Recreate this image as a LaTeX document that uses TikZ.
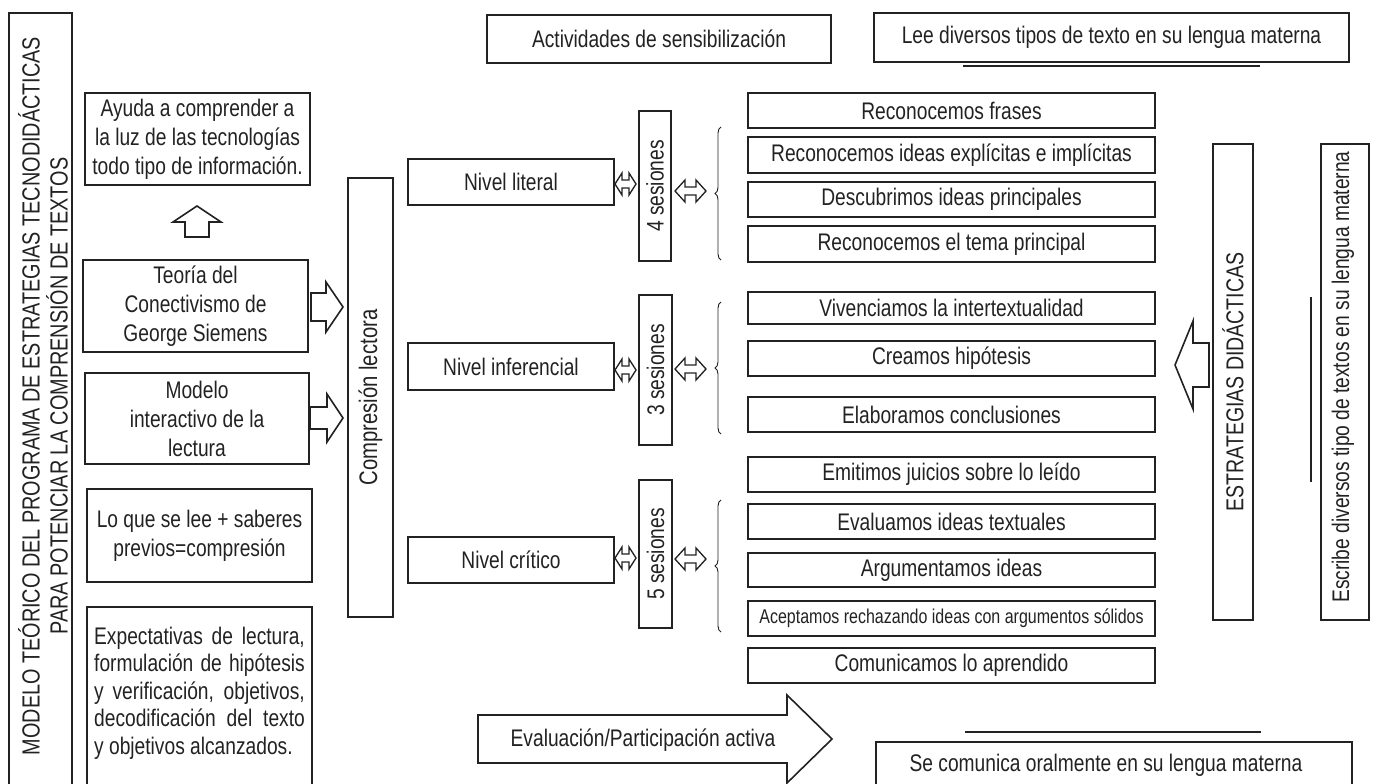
\documentclass[tikz,border=0pt]{standalone}
\usepackage{fontspec}
\setmainfont{Liberation Sans}[FakeStretch=0.8]
\usetikzlibrary{fit,decorations.pathreplacing}
\definecolor{ink}{HTML}{222222}
\tikzset{
 box/.style={draw=ink, line width=1.5pt, inner sep=0pt},
 txt/.style={text=ink, inner sep=0pt, align=center, font=\fontsize{18}{21.75}\selectfont},
 blockarrow/.style={draw=ink, line width=1.2pt, line join=miter, fill=white},
 bracel/.style={draw=ink, line width=0.7pt, decorate, decoration={brace, amplitude=4.5pt}},
 rulel/.style={draw=ink, line width=1.6pt},
}
\newcommand\bx[6]{%
 \node[box, fit={(#2,#3) (#4,#5)}] (#1) {};
 \node[txt] (#1-t) at (#1.center) {#6};}
\begin{document}
\begin{tikzpicture}[x=0.75pt, y=-0.75pt]
\useasboundingbox (0,0) rectangle (1376,783);
\clip (0,0) rectangle (1376,783);

% title
\node[box, fit={(9,13) (72,800)}] (title) {};
\node[txt, rotate=90, font=\fontsize{18.6}{21}\selectfont] (titletxt) at (43,396)
 {MODELO TEÓRICO DEL PROGRAMA DE ESTRATEGIAS TECNODIDÁCTICAS\\PARA POTENCIAR LA COMPRENSIÓN DE TEXTOS};

% left column
\bx{ayuda}{85}{93}{310}{185}{Ayuda a comprender a\\la luz de las tecnologías\\todo tipo de información.}
\bx{teoria}{83}{260}{308}{352}{Teoría del\\Conectivismo de\\George Siemens}
\bx{modelo}{85}{373}{309}{464}{Modelo\\interactivo de la\\lectura}
\bx{loque}{87}{489}{312}{582}{Lo que se lee + saberes\\previos=compresión}
\node[box, fit={(87,607) (312,800)}] (expect) {};
\node[txt, text width=158pt, align=justify, font=\fontsize{18}{20.6}\selectfont] (expecttxt) at (199.5,693)
 {Expectativas de lectura,\linebreak formulación de hipótesis\linebreak y verificación, objetivos,\linebreak decodificación del texto\linebreak y objetivos alcanzados.};

\draw[blockarrow] (185,237) -- (185,222) -- (173,222) -- (197,206) -- (221,222) -- (209,222) -- (209,237) -- cycle;
\draw[blockarrow] (311,293) -- (326,293) -- (326,282) -- (343,307) -- (326,332) -- (326,321) -- (311,321) -- cycle;
\draw[blockarrow] (310,407) -- (327,407) -- (327,394) -- (343,418) -- (327,442) -- (327,429) -- (310,429) -- cycle;

% comprension
\node[box, fit={(348,178) (393,617)}] (compr) {};
\node[txt, rotate=90, font=\fontsize{19}{21}\selectfont] (comprtxt) at (compr.center) {Compresión lectora};

% niveles
\bx{literal}{408}{159}{614}{205}{Nivel literal}
\bx{infer}{408}{343}{614}{390}{Nivel inferencial}
\bx{critico}{408}{537}{614}{583}{Nivel crítico}

% sesiones
\node[box, fit={(639,111) (671,261)}] (s4) {};
\node[txt, rotate=90] (s4txt) at (s4.center) {4 sesiones};
\node[box, fit={(639,295) (672,445)}] (s3) {};
\node[txt, rotate=90] (s3txt) at (s3.center) {3 sesiones};
\node[box, fit={(639,480) (672,628)}] (s5) {};
\node[txt, rotate=90] (s5txt) at (s5.center) {5 sesiones};

% small double arrows
\foreach \c in {184,370,558}{
 \draw[blockarrow, line width=1pt] (615,\c) -- (622,\c-11) -- (622,\c-4) -- (629,\c-4) -- (629,\c-11) -- (636,\c) -- (629,\c+11) -- (629,\c+4) -- (622,\c+4) -- (622,\c+11) -- cycle;
}
\foreach \c in {191,369,559}{
 \draw[blockarrow, line width=1pt] (675,\c) -- (685,\c-11) -- (685,\c-4) -- (696,\c-4) -- (696,\c-11) -- (706,\c) -- (696,\c+11) -- (696,\c+4) -- (685,\c+4) -- (685,\c+11) -- cycle;
}

% braces
\draw[bracel] (721,260) -- (721,127);
\draw[bracel] (721,434) -- (721,302);
\draw[bracel] (721,632) -- (721,500);

% right boxes
\bx{r1}{748}{93}{1155}{128}{Reconocemos frases}
\bx{r2}{748}{137}{1155}{173}{Reconocemos ideas explícitas e implícitas}
\bx{r3}{748}{182}{1155}{217}{Descubrimos ideas principales}
\bx{r4}{748}{226}{1155}{262}{Reconocemos el tema principal}
\bx{r5}{748}{292}{1155}{324}{Vivenciamos la intertextualidad}
\bx{r6}{748}{341}{1155}{376}{Creamos hipótesis}
\bx{r7}{748}{397}{1155}{432}{Elaboramos conclusiones}
\bx{r8}{748}{457}{1155}{492}{Emitimos juicios sobre lo leído}
\bx{r9}{748}{504}{1155}{539}{Evaluamos ideas textuales}
\bx{r10}{748}{553}{1155}{587}{Argumentamos ideas}
\bx{r11}{748}{601}{1155}{636}{\fontsize{15}{17}\selectfont Aceptamos rechazando ideas con argumentos sólidos}
\bx{r12}{748}{648}{1155}{683}{Comunicamos lo aprendido}

% top boxes
\bx{activ}{487}{15}{831}{63}{Actividades de sensibilización}
\bx{lee}{874}{13}{1349}{62}{Lee diversos tipos de texto en su lengua materna}
\draw[rulel] (963,66) -- (1260,66);

% right side
\node[box, fit={(1213,144) (1253,620)}] (estr) {};
\node[txt, rotate=90, font=\fontsize{18.3}{21}\selectfont] (estrtxt) at (1233,382) {ESTRATEGIAS DIDÁCTICAS};
\draw[blockarrow] (1209,343) -- (1193,343) -- (1193,321) -- (1175,365) -- (1193,409) -- (1193,387) -- (1209,387) -- cycle;
\node[box, fit={(1321,144) (1369,620)}] (escribe) {};
\node[txt, rotate=90] (escribetxt) at (1343,377) {Escribe diversos tipo de textos en su lengua materna};
\draw[rulel] (1311,297) -- (1311,482);

% bottom
\draw[blockarrow] (478,715) -- (787,715) -- (787,695) -- (832,739) -- (787,783) -- (787,763) -- (478,763) -- cycle;
\node[txt] (evaltxt) at (643,740) {Evaluación/Participación activa};
\draw[rulel] (965,732) -- (1261,732);
\node[box, fit={(876,742) (1352,800)}] (secom) {};
\node[txt] (secomtxt) at (1106,765) {Se comunica oralmente en su lengua materna};
\end{tikzpicture}
\end{document}
